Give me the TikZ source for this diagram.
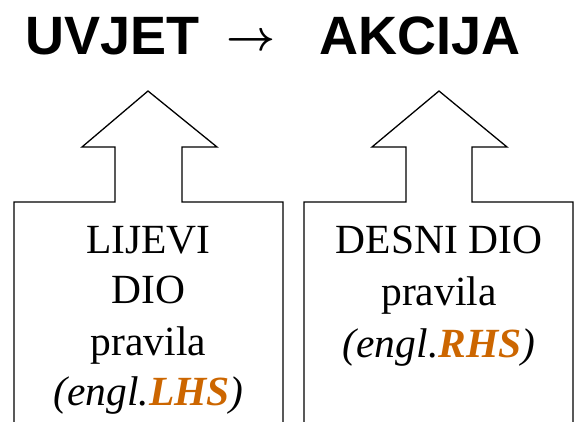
\documentclass[tikz,border=0pt]{standalone}
\usepackage{fontspec}
\setmainfont{Liberation Serif}
\newfontfamily\titlefont{Liberation Sans}
\definecolor{hsorange}{RGB}{204,102,0}
\begin{document}
\begin{tikzpicture}[x=1pt,y=-1pt,
  arrowbox/.style={draw=black,line width=1.3pt,line join=miter},
  titletext/.style={font=\titlefont\bfseries\fontsize{54}{60}\selectfont,anchor=base,inner sep=0pt},
  bodytext/.style={font=\fontsize{41.5}{50}\selectfont,anchor=base,inner sep=0pt}]
\useasboundingbox (0,0) rectangle (578,422);

% heading: condition -> action
\node[titletext] (cond) at (112.5,55) {UVJET};
\node[inner sep=0pt] (arr) at (251.5,42) {\resizebox{49pt}{!}{\boldmath$\rightarrow$}};
\node[titletext] (act) at (420.5,55) {AKCIJA};

% left part: open box with an upward arrow
\draw[arrowbox] (14,423) -- (14,202) -- (115,202) -- (115,147) -- (82,147)
  -- (148,91) -- (217,147) -- (182,147) -- (182,202) -- (283,202) -- (283,423);
% right part
\draw[arrowbox] (304,423) -- (304,202) -- (406,202) -- (406,147) -- (372,147)
  -- (439,91) -- (507,147) -- (472,147) -- (472,202) -- (573,202) -- (573,423);

% left labels
\node[bodytext] (l1) at (148.5,253) {LIJEVI};
\node[bodytext] (l2) at (148.5,303) {DIO};
\node[bodytext] (l3) at (148.5,355) {pravila};
\node[bodytext] (l4) at (148.5,405) {\itshape (engl.\textcolor{hsorange}{\bfseries LHS})};

% right labels
\node[bodytext] (r1) at (439,253) {DESNI DIO};
\node[bodytext] (r2) at (439,305) {pravila};
\node[bodytext] (r3) at (439,357) {\itshape (engl.\textcolor{hsorange}{\bfseries RHS})};
\end{tikzpicture}
\end{document}
